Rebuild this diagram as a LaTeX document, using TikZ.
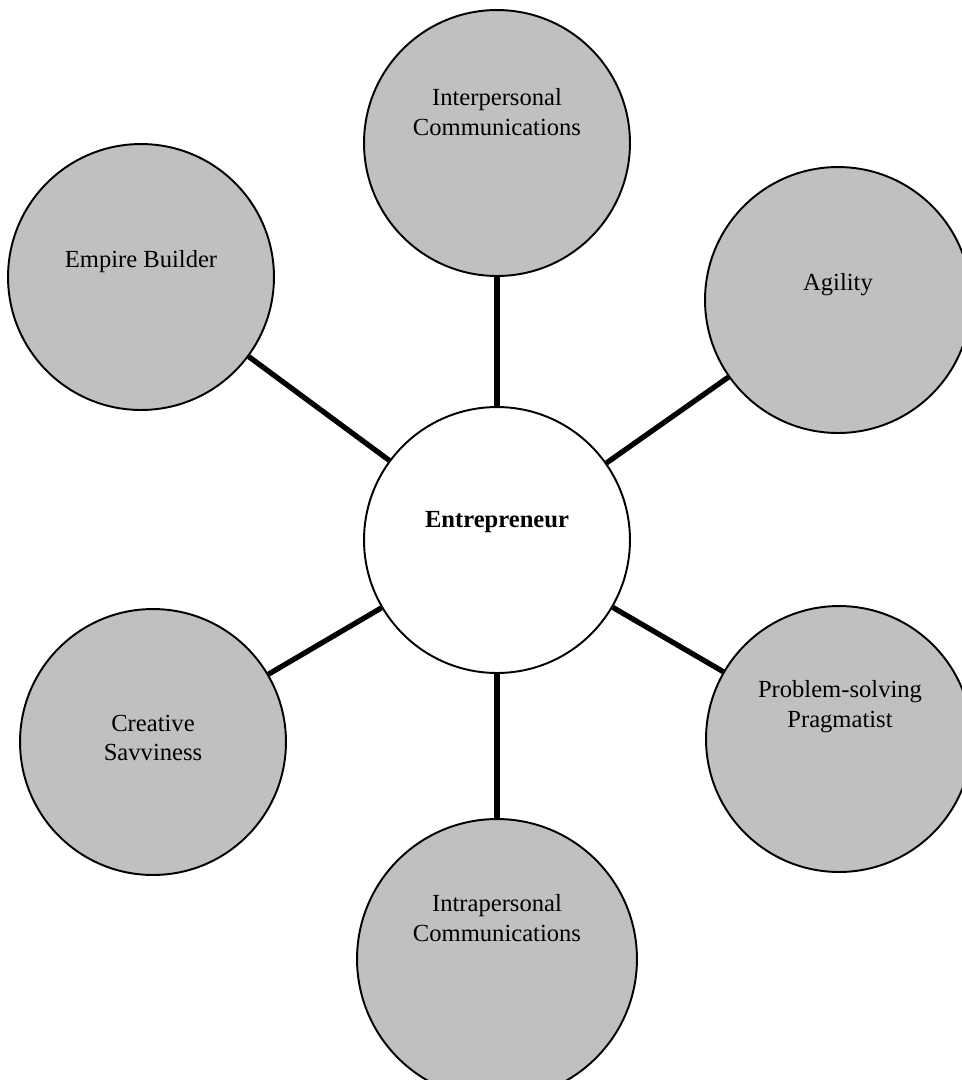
\documentclass[tikz,border=0pt]{standalone}
\usepackage{fontspec}
\setmainfont{Liberation Serif}
\usepackage{xcolor}
\definecolor{bubblegray}{HTML}{C0C0C0}

\begin{document}
\begin{tikzpicture}[x=0.02cm, y=-0.02cm,
                    bubble/.style={circle, draw=black, fill=bubblegray, line width=1.1pt, minimum size=5.32cm, inner sep=0pt},
                    hub/.style={bubble, fill=white},
                    spoke/.style={line width=3pt},
                    lbl/.style={align=center, font=\fontsize{14}{17}\selectfont}]

                      \useasboundingbox (0,0) rectangle (962,1080);

                      % centre
                      \node[hub] (ent) at (497,540) {};
                      \node[lbl, font=\fontsize{14}{17}\selectfont\bfseries] (entlbl) at (497,522) {Entrepreneur};

                      % outer bubbles
                      \node[bubble] (inter) at (497,143) {};
                      \node[lbl] (interlbl) at (497,112) {Interpersonal\\Communications};

                      \node[bubble] (emp) at (141,277) {};
                      \node[lbl] (emplbl) at (141,262) {Empire Builder};

                      \node[bubble] (agi) at (838,300) {};
                      \node[lbl] (agilbl) at (838,285) {Agility};

                      \node[bubble] (prob) at (839,739) {};
                      \node[lbl] (problbl) at (840,707) {Problem-solving\\Pragmatist};

                      \node[bubble] (crea) at (153,742) {};
                      \node[lbl] (crealbl) at (153,738) {Creative\\Savviness};

                      \node[bubble, minimum size=5.6cm] (intra) at (497,959) {};
                      \node[lbl] (intralbl) at (497,918) {Intrapersonal\\Communications};

                      % spokes
                      \draw[spoke] (ent) -- (inter);
                      \draw[spoke] (ent) -- (emp);
                      \draw[spoke] (ent) -- (agi);
                      \draw[spoke] (ent) -- (prob);
                      \draw[spoke] (ent) -- (crea);
                      \draw[spoke] (ent) -- (intra);

\end{tikzpicture}
\end{document}
